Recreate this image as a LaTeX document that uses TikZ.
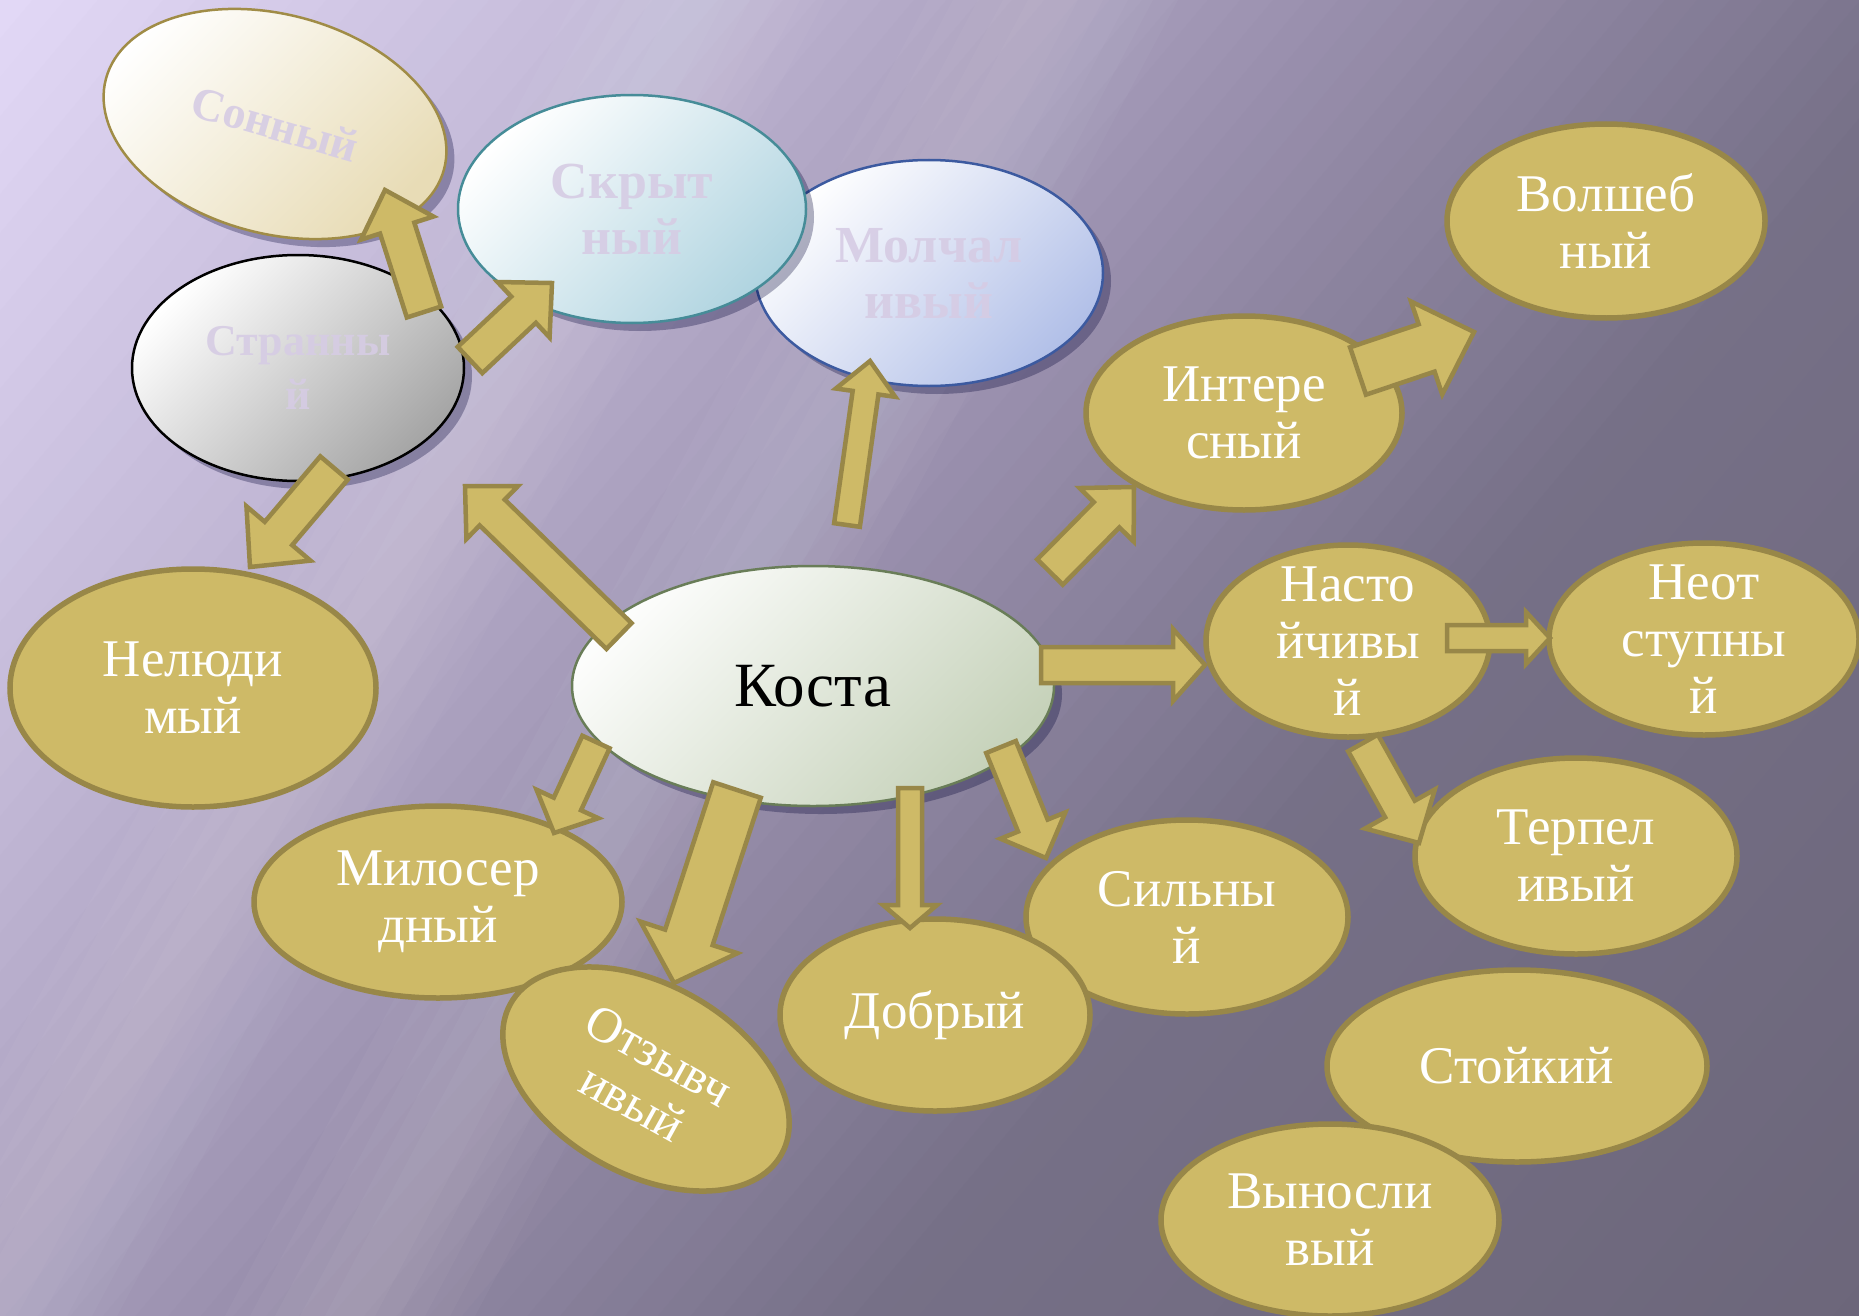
\documentclass[tikz,border=0pt]{standalone}
\usepackage{fontspec}
\setmainfont{Liberation Serif}
\usetikzlibrary{shapes.geometric,calc,shadows}
\definecolor{bgA}{RGB}{226,216,246}
\definecolor{bgB}{RGB}{194,184,214}
\definecolor{bgC}{RGB}{154,144,174}
\definecolor{bgD}{RGB}{118,112,135}
\definecolor{bgE}{RGB}{108,102,122}
\definecolor{goldfill}{RGB}{206,186,103}
\definecolor{goldline}{RGB}{152,135,72}
\definecolor{pastxt}{RGB}{214,204,228}
\definecolor{sonC}{RGB}{232,220,182}
\definecolor{sonL}{RGB}{160,140,70}
\definecolor{skrC}{RGB}{176,212,224}
\definecolor{skrL}{RGB}{70,140,152}
\definecolor{molC}{RGB}{178,192,232}
\definecolor{molL}{RGB}{60,90,160}
\definecolor{strC}{RGB}{165,165,165}
\definecolor{kosC}{RGB}{198,210,186}
\definecolor{kosL}{RGB}{105,125,88}

\newcommand\bgcol[1]{%
 \ifnum#1<500 \pgfmathtruncatemacro\q{100-#1/5}\colorlet{sc}{bgA!\q!bgB}%
 \else\ifnum#1<1000 \pgfmathtruncatemacro\q{100-(#1-500)/5}\colorlet{sc}{bgB!\q!bgC}%
 \else\ifnum#1<1500 \pgfmathtruncatemacro\q{100-(#1-1000)/5}\colorlet{sc}{bgC!\q!bgD}%
 \else \pgfmathtruncatemacro\q{max(0,100-(#1-1500)/7.7)}\colorlet{sc}{bgD!\q!bgE}\fi\fi\fi}

% start, end, half shaft width, half head width, head length
\newcommand\blockarr[5]{%
  \path ($(#2)!#5!(#1)$) coordinate (hb);
  \draw[barrow] ($(#1)!#3!90:(#2)$) -- ($(hb)!#3!-90:(#1)$) -- ($(hb)!#4!-90:(#1)$)
     -- (#2) -- ($(hb)!#4!90:(#1)$) -- ($(hb)!#3!90:(#1)$) -- ($(#1)!#3!-90:(#2)$) -- cycle;}

\begin{document}
\begin{tikzpicture}[x=1pt,y=-1pt,
  gold/.style={ellipse, inner sep=0pt, fill=goldfill, draw=goldline, line width=5.5pt},
  past/.style={ellipse, inner sep=0pt, line width=2.5pt,
     drop shadow={shadow xshift=8pt,shadow yshift=-8pt,opacity=0.3,fill=black!80!blue}},
  gtxt/.style={text=white, align=center, inner sep=0pt, font=\fontsize{53}{57}\selectfont},
  ptxt/.style={text=pastxt, text opacity=0.9, align=center, inner sep=0pt, font=\bfseries\fontsize{52}{56}\selectfont},
  barrow/.style={fill=goldfill, draw=goldline, line width=4.5pt, line join=miter},
  streak/.style={fill=white, opacity=0.03}]

\useasboundingbox (0,0) rectangle (1859,1316);
% background
\begin{scope}
\clip (0,0) rectangle (1859,1316);
\foreach \i in {0,...,92}{
  \pgfmathtruncatemacro\pp{\i*25}
  \bgcol{\pp}
  \fill[sc] ({\pp*0.766+1500*0.643},{\pp*0.643-1500*0.766}) -- ({(\pp+27)*0.766+1500*0.643},{(\pp+27)*0.643-1500*0.766}) -- ({(\pp+27)*0.766-2500*0.643},{(\pp+27)*0.643+2500*0.766}) -- ({\pp*0.766-2500*0.643},{\pp*0.643+2500*0.766}) -- cycle;
}
\foreach \d in {25,50,75,100,125}{
  \fill[streak] (1053-\d,0) -- (1053+\d,0) -- (350+\d,1316) -- (350-\d,1316) -- cycle;
  \fill[streak] (700-\d,0) -- (700+\d,0) -- (-8+\d,1316) -- (-8-\d,1316) -- cycle;
}
\end{scope}

% pastel ellipses
\node[past, minimum width=348, minimum height=226, top color=white, bottom color=molC, shading angle=45, draw=molL] (mol) at (929,273) {};
\node[ptxt] (mol-t) at (mol) {Молчал\\ивый};
\node[past, minimum width=348, minimum height=228, top color=white, bottom color=skrC, shading angle=45, draw=skrL] (skr) at (632,209) {};
\node[ptxt] (skr-t) at (skr) {Скрыт\\ный};
\node[past, minimum width=350, minimum height=219, rotate=-15, top color=white, bottom color=sonC, shading angle=45, draw=sonL] (son) at (275,124) {};
\node[ptxt, rotate=-16, font=\bfseries\fontsize{46}{52}\selectfont] (son-t) at (son) {Сонный};
\node[past, minimum width=332, minimum height=226, top color=white, bottom color=strC, shading angle=45, draw=black] (str) at (298,368) {};
\node[ptxt, font=\bfseries\fontsize{44}{54}\selectfont] (str-t) at (str) {Странны\\й};
\node[past, minimum width=482, minimum height=240, top color=white!95!kosC, bottom color=kosC, shading angle=45, draw=kosL] (kos) at (813,686) {};
\node[font=\fontsize{63}{68}\selectfont, inner sep=0pt] (kos-t) at (kos) {Коста};

% gold ellipses
\node[gold, minimum width=366, minimum height=238] (nel) at (193,688) {};
\node[gtxt] (nel-t) at (nel) {Нелюди\\мый};
\node[gold, minimum width=368, minimum height=192] (mil) at (438,902) {};
\node[gtxt] (mil-t) at (mil) {Милосер\\дный};
\node[gold, minimum width=310, minimum height=190, rotate=-29] (otz) at (646,1079) {};
\node[gtxt, rotate=-29, font=\fontsize{50}{54}\selectfont] (otz-t) at (otz) {Отзывч\\ивый};
\node[gold, minimum width=322, minimum height=194] (sil) at (1187,917) {};
\node[gtxt] (sil-t) at (sil) {Сильны\\й};
\node[gold, minimum width=310, minimum height=192] (dob) at (935,1015) {};
\node[gtxt] (dob-t) at (dob) {Добрый};
\node[gold, minimum width=316, minimum height=194] (int) at (1244,413) {};
\node[gtxt] (int-t) at (int) {Интере\\сный};
\node[gold, minimum width=318, minimum height=194] (vol) at (1606,221) {};
\node[gtxt] (vol-t) at (vol) {Волшеб\\ный};
\node[gold, minimum width=284, minimum height=192] (nas) at (1348,641) {};
\node[gtxt] (nas-t) at (nas) {Насто\\йчивы\\й};
\node[gold, minimum width=310, minimum height=192] (neo) at (1704,639) {};
\node[gtxt] (neo-t) at (neo) {Неот\\ступны\\й};
\node[gold, minimum width=322, minimum height=196] (ter) at (1576,856) {};
\node[gtxt] (ter-t) at (ter) {Терпел\\ивый};
\node[gold, minimum width=380, minimum height=192] (sto) at (1517,1066) {};
\node[gtxt] (sto-t) at (sto) {Стойкий};
\node[gold, minimum width=338, minimum height=192] (vyn) at (1330,1220) {};
\node[gtxt] (vyn-t) at (vyn) {Выносли\\вый};

% arrow end points
\coordinate (aAs) at (619,636);  \coordinate (aAe) at (465,486);
\coordinate (aBs) at (847,525);  \coordinate (aBe) at (870,361);
\coordinate (aCs) at (470,360);  \coordinate (aCe) at (552,283);
\coordinate (aDs) at (424,312);  \coordinate (aDe) at (385,190);
\coordinate (aEs) at (334,468);  \coordinate (aEe) at (250,567);
\coordinate (aFs) at (1050,572); \coordinate (aFe) at (1134,487);
\coordinate (aGs) at (1358,371); \coordinate (aGe) at (1474,332);
\coordinate (aHs) at (1041,665); \coordinate (aHe) at (1205,665);
\coordinate (aIs) at (1447,638); \coordinate (aIe) at (1550,638);
\coordinate (aJs) at (1363,743); \coordinate (aJe) at (1419,843);
\coordinate (aKs) at (1001,747); \coordinate (aKe) at (1046,858);
\coordinate (aLs) at (910,788);  \coordinate (aLe) at (910,928);
\coordinate (aMs) at (737,790);  \coordinate (aMe) at (674,983);
\coordinate (aNs) at (596,742);  \coordinate (aNe) at (554,833);

\blockarr{aAs}{aAe}{18pt}{37pt}{38pt}
\blockarr{aBs}{aBe}{13pt}{30pt}{32pt}
\blockarr{aCs}{aCe}{18pt}{38pt}{39pt}
\blockarr{aDs}{aDe}{18pt}{38pt}{40pt}
\blockarr{aEs}{aEe}{18pt}{42pt}{44pt}
\blockarr{aFs}{aFe}{18pt}{38pt}{39pt}
\blockarr{aGs}{aGe}{25pt}{49pt}{50pt}
\blockarr{aHs}{aHe}{18pt}{36pt}{32pt}
\blockarr{aIs}{aIe}{13pt}{26pt}{24pt}
\blockarr{aJs}{aJe}{17pt}{40pt}{39pt}
\blockarr{aKs}{aKe}{16pt}{35pt}{35pt}
\blockarr{aLs}{aLe}{12pt}{27pt}{23pt}
\blockarr{aMs}{aMe}{25pt}{51pt}{48pt}
\blockarr{aNs}{aNe}{15pt}{34pt}{32pt}
\end{tikzpicture}
\end{document}
